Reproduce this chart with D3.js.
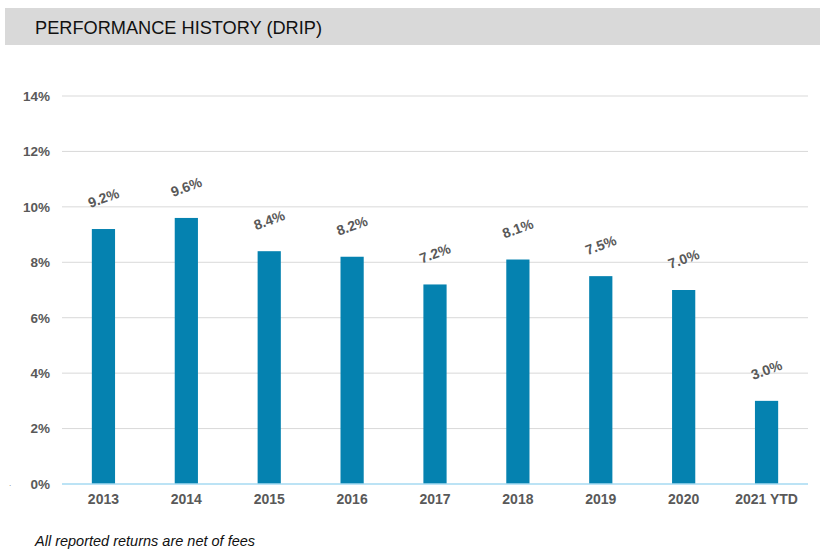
<!DOCTYPE html>
<html>
<head>
<meta charset="utf-8">
<script src="https://cdn.jsdelivr.net/npm/d3@7"></script>
<style>
  body { margin: 0; background: #fff; }
  svg { font-family: "Liberation Sans", Arial, sans-serif; }
</style>
</head>
<body>
<div id="chart"></div>
<script>
// Chart data
const years = ["2013", "2014", "2015", "2016", "2017", "2018", "2019", "2020", "2021 YTD"];
const returns = [9.2, 9.6, 8.4, 8.2, 7.2, 8.1, 7.5, 7.0, 3.0];
const yTicks = [0, 2, 4, 6, 8, 10, 12, 14];

const width = 824, height = 549;
const margin = { top: 96, right: 16, bottom: 65, left: 62 };

const svg = d3.select("#chart")
  .append("svg")
  .attr("width", width)
  .attr("height", height);

// header band
svg.append("rect")
  .attr("x", 5).attr("y", 8)
  .attr("width", 815).attr("height", 37)
  .attr("fill", "#d9d9d9");

svg.append("text")
  .attr("x", 35).attr("y", 34)
  .attr("font-size", 17.5)
  .attr("fill", "#111")
  .attr("textLength", 287)
  .attr("lengthAdjust", "spacingAndGlyphs")
  .text("PERFORMANCE HISTORY (DRIP)");

const x = d3.scaleBand()
  .domain(years)
  .range([margin.left, width - margin.right])
  .paddingInner(0.72)
  .paddingOuter(0.36);

const y = d3.scaleLinear()
  .domain([0, 14])
  .range([height - margin.bottom, margin.top]);

// gridlines
svg.append("g")
  .selectAll("line")
  .data(yTicks.filter(d => d > 0))
  .enter()
  .append("line")
  .attr("x1", margin.left)
  .attr("x2", width - margin.right)
  .attr("y1", d => y(d))
  .attr("y2", d => y(d))
  .attr("stroke", "#d9d9d9")
  .attr("stroke-width", 1);

// y axis labels
const yAxis = d3.axisLeft(y).tickValues(yTicks).tickFormat(d => d + "%").tickSize(0).tickPadding(12);
svg.append("g")
  .attr("transform", `translate(${margin.left},0)`)
  .call(yAxis)
  .call(g => g.select(".domain").remove())
  .selectAll("text")
  .attr("font-family", "Liberation Sans, Arial, sans-serif")
  .attr("font-size", 13.5)
  .attr("font-weight", "bold")
  .attr("fill", "#595959");

// bars
svg.append("g")
  .selectAll("rect")
  .data(years)
  .enter()
  .append("rect")
  .attr("x", d => x(d))
  .attr("width", x.bandwidth())
  .attr("y", (d, i) => y(returns[i]))
  .attr("height", (d, i) => y(0) - y(returns[i]))
  .attr("fill", "#0582b0");

// zero line
svg.append("line")
  .attr("x1", margin.left)
  .attr("x2", width - margin.right)
  .attr("y1", y(0))
  .attr("y2", y(0))
  .attr("stroke", "#a6daf2")
  .attr("stroke-width", 1.5);

// x axis labels
const xAxis = d3.axisBottom(x).tickSize(0).tickPadding(10);
svg.append("g")
  .attr("transform", `translate(0,${y(0)})`)
  .call(xAxis)
  .call(g => g.select(".domain").remove())
  .selectAll("text")
  .attr("font-family", "Liberation Sans, Arial, sans-serif")
  .attr("font-size", 14)
  .attr("font-weight", "bold")
  .attr("fill", "#595959");

// value labels, rotated
svg.append("g")
  .selectAll("text")
  .data(years)
  .enter()
  .append("text")
  .attr("transform", (d, i) => `translate(${x(d) + x.bandwidth() / 2},${y(returns[i]) - 31}) rotate(-20)`)
  .attr("text-anchor", "middle")
  .attr("dy", "0.35em")
  .attr("font-size", 14)
  .attr("font-weight", "bold")
  .attr("fill", "#595959")
  .text((d, i) => returns[i].toFixed(1) + "%");

// stray mark at left
svg.append("text")
  .attr("x", 9).attr("y", 486)
  .attr("font-size", 8)
  .attr("fill", "#777")
  .text(".");

// footnote
svg.append("text")
  .attr("x", 35).attr("y", 546)
  .attr("font-size", 14.5)
  .attr("font-style", "italic")
  .attr("fill", "#111")
  .text("All reported returns are net of fees");
</script>
</body>
</html>
